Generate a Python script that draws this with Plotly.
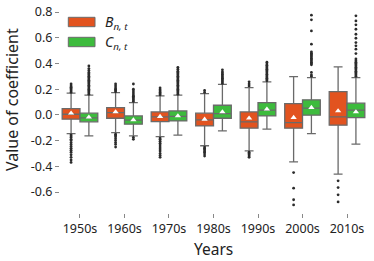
import plotly.graph_objects as go

decades = ["1950s", "1960s", "1970s", "1980s", "1990s", "2000s", "2010s"]
positions = [0, 1, 2, 3, 4, 5, 6]

# Series B_{n,t}
b_q1 = [-0.033, -0.026, -0.052, -0.086, -0.103, -0.103, -0.080]
b_median = [0.005, 0.018, -0.016, -0.039, -0.054, -0.060, -0.016]
b_q3 = [0.049, 0.057, 0.023, 0.013, 0.023, 0.088, 0.181]
b_low = [-0.145, -0.138, -0.169, -0.240, -0.280, -0.365, -0.461]
b_high = [0.169, 0.173, 0.148, 0.166, 0.212, 0.298, 0.373]
b_mean = [0.013, 0.023, -0.013, -0.034, -0.026, -0.021, 0.031]
b_outliers = [
    [0.175, 0.185, 0.195, 0.205, 0.215, 0.225, 0.24,
     -0.155, -0.165, -0.175, -0.19, -0.2, -0.215, -0.23, -0.245, -0.26,
     -0.275, -0.29, -0.31, -0.33, -0.35, -0.37],
    [0.18, 0.19, 0.2, 0.21, 0.225, 0.24,
     -0.15, -0.16, -0.17, -0.185, -0.2, -0.215, -0.23, -0.25],
    [0.155, 0.165, 0.175, 0.185, 0.195, 0.21,
     -0.18, -0.19, -0.205, -0.22, -0.235, -0.25, -0.265, -0.28, -0.3,
     -0.315, -0.33],
    [0.175, 0.19,
     -0.25, -0.26, -0.27, -0.28, -0.29, -0.305, -0.32],
    [0.225, 0.24, 0.257,
     -0.29, -0.3, -0.31, -0.32, -0.33],
    [-0.449, -0.57, -0.66, -0.70],
    [-0.513, -0.565, -0.622, -0.677],
]

# Series C_{n,t}
c_q1 = [-0.054, -0.072, -0.047, -0.026, -0.008, -0.002, -0.021]
c_median = [-0.023, -0.041, -0.012, 0.010, 0.037, 0.052, 0.037]
c_q3 = [0.013, -0.008, 0.031, 0.075, 0.096, 0.117, 0.091]
c_low = [-0.163, -0.163, -0.158, -0.124, -0.111, -0.145, -0.228]
c_high = [0.153, 0.096, 0.153, 0.238, 0.257, 0.290, 0.290]
c_mean = [-0.018, -0.039, -0.008, 0.023, 0.044, 0.057, 0.023]
c_outliers = [
    [0.16, 0.17, 0.18, 0.19, 0.2, 0.21, 0.22, 0.23, 0.24, 0.25, 0.26,
     0.27, 0.28, 0.29, 0.3, 0.31, 0.32, 0.33, 0.345, 0.36, 0.38],
    [0.105, 0.115, 0.125, 0.135, 0.145, 0.155, 0.17, 0.185, 0.2, 0.24,
     -0.175, -0.19],
    [0.16, 0.17, 0.18, 0.19, 0.2, 0.21, 0.22, 0.23, 0.24, 0.25, 0.26,
     0.27, 0.28, 0.29, 0.3, 0.31, 0.32, 0.33, 0.34, 0.355, 0.37],
    [0.245, 0.255, 0.265, 0.275, 0.285, 0.295, 0.305, 0.315, 0.325,
     0.335, 0.35],
    [0.265, 0.275, 0.285, 0.295, 0.305, 0.315, 0.325, 0.335, 0.345,
     0.355, 0.365, 0.375, 0.385, 0.395, 0.41],
    [0.30, 0.31, 0.33, 0.39, 0.40, 0.41, 0.42, 0.43, 0.44, 0.45, 0.46,
     0.47, 0.48, 0.49, 0.55, 0.653, 0.739, 0.775],
    [0.30, 0.31, 0.32, 0.33, 0.34, 0.35, 0.36, 0.37, 0.38, 0.39, 0.40,
     0.41, 0.42, 0.435, 0.477, 0.511, 0.537, 0.562, 0.596, 0.627,
     0.666, 0.70, 0.731, 0.77],
]

y_tick_vals = [-0.6, -0.4, -0.2, 0.0, 0.2, 0.4, 0.6, 0.8]
y_tick_text = ["-0.6", "-0.4", "-0.2", "0.0", "0.2", "0.4", "0.6", "0.8"]

series_names = ["<i>B</i><sub><i>n, t</i></sub>", "<i>C</i><sub><i>n, t</i></sub>"]
x_title = "Years"
y_title = "Value of coefficient"
colors = ["#E2531F", "#3DBB3D"]
edge = "#6a6a6a"
offset = 0.2
box_w = 0.4

fig = go.Figure()

series = [
    (b_q1, b_median, b_q3, b_low, b_high, b_mean, b_outliers, -offset),
    (c_q1, c_median, c_q3, c_low, c_high, c_mean, c_outliers, offset),
]

for k, (q1, med, q3, lo, hi, mn, outl, off) in enumerate(series):
    xs = [p + off for p in positions]
    fig.add_trace(go.Box(
        x=xs, q1=q1, median=med, q3=q3, lowerfence=lo, upperfence=hi,
        width=box_w, whiskerwidth=0.5, boxpoints=False,
        fillcolor=colors[k], line=dict(color=edge, width=1.3),
        name=series_names[k], showlegend=False, hoverinfo="skip",
    ))
    ox, oy = [], []
    for i, vals in enumerate(outl):
        for v in vals:
            ox.append(xs[i])
            oy.append(v)
    fig.add_trace(go.Scatter(
        x=ox, y=oy, mode="markers",
        marker=dict(symbol="circle", size=2.8, color="#2b2b2b"),
        showlegend=False, hoverinfo="skip",
    ))
    fig.add_trace(go.Scatter(
        x=xs, y=mn, mode="markers",
        marker=dict(symbol="triangle-up", size=5.5, color="white", line=dict(width=0)),
        showlegend=False, hoverinfo="skip",
    ))

# Manual legend (patches + labels)
legend_rows = [(0.900, 0.9454, 0.9227), (0.8034, 0.8488, 0.826)]
for k, (y0, y1, yc) in enumerate(legend_rows):
    fig.add_shape(type="rect", xref="paper", yref="paper",
                  x0=0.0269, x1=0.1133, y0=y0, y1=y1,
                  fillcolor=colors[k], line=dict(color=edge, width=1))
    fig.add_annotation(xref="paper", yref="paper", x=0.139, y=yc,
                       text=series_names[k], showarrow=False,
                       xanchor="left", yanchor="middle",
                       font=dict(size=14, color="#222"))

# Axis titles
fig.add_annotation(xref="paper", yref="paper", x=0.498, y=-0.172,
                   text=x_title, showarrow=False, xanchor="center",
                   yanchor="middle", font=dict(size=15.5, color="#222"))
fig.add_annotation(xref="paper", yref="paper", x=-0.155, y=0.546,
                   text=y_title, showarrow=False, textangle=-90,
                   xanchor="center", yanchor="middle",
                   font=dict(size=16, color="#222"))

fig.update_layout(
    width=374, height=261,
    margin=dict(l=60, r=5, t=6, b=48),
    paper_bgcolor="white", plot_bgcolor="white",
    font=dict(family="Noto Sans", size=12.5, color="#222"),
    showlegend=False,
)
fig.update_xaxes(
    range=[-0.449, 6.494], tickvals=positions, ticktext=decades,
    ticks="outside", ticklen=4, tickcolor="#888", showgrid=False,
    zeroline=False, showline=False, automargin=False,
)
fig.update_yaxes(
    range=[-0.763, 0.8467], tickvals=y_tick_vals, ticktext=y_tick_text,
    ticks="outside", ticklen=4, tickcolor="#888", showgrid=False,
    zeroline=False, showline=False, automargin=False,
)

fig.write_html(
    "out.html",
    config={"displayModeBar": False},
    post_script="document.body.style.margin='0';document.body.style.overflow='hidden';",
)
